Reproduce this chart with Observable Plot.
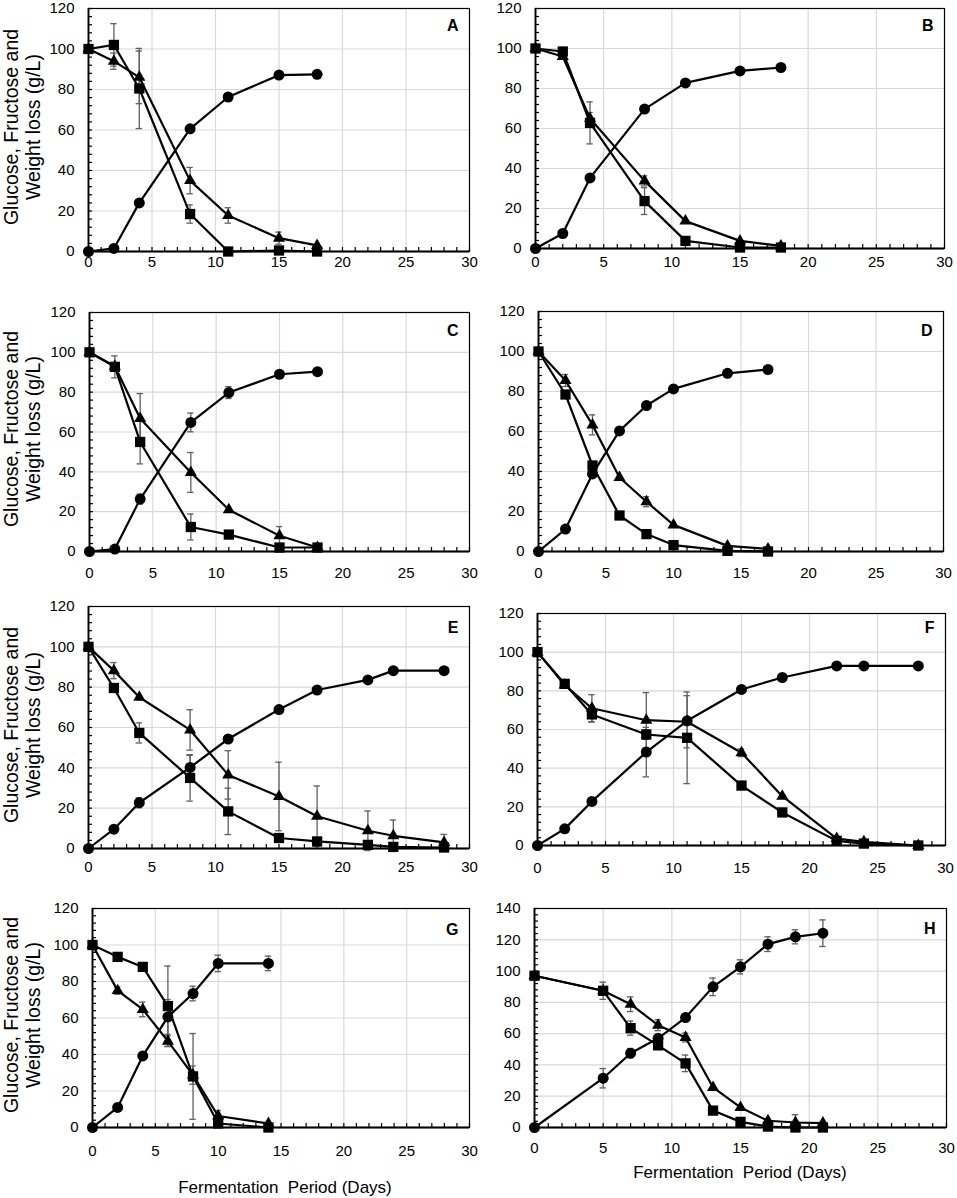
<!DOCTYPE html>
<html>
<head>
<meta charset="utf-8">
<script src="https://cdn.jsdelivr.net/npm/d3@7"></script>
<script src="https://cdn.jsdelivr.net/npm/@observablehq/plot@0.6"></script>
<style>
  html, body { margin: 0; padding: 0; background: #fff; overflow: hidden; }
  #page { position: relative; width: 957px; height: 1198px; font-family: "Liberation Sans", Arial, sans-serif; color: #000; }
  .panel { position: absolute; }
  .ytitle { position: absolute; width: 260px; height: 44px; line-height: 22px; font-size: 19.5px; text-align: center; white-space: nowrap; transform: rotate(-90deg); transform-origin: 50% 50%; }
  .xtitle { position: absolute; font-size: 17px; white-space: pre; transform: translate(-50%, -50%); }
</style>
</head>
<body>
<div id="page"></div>
<script>
// ---------------- DATA ----------------
const panelLetters = ["A", "B", "C", "D", "E", "F", "G", "H"];
const xTicks = [0, 5, 10, 15, 20, 25, 30];
const yTicks120 = [0, 20, 40, 60, 80, 100, 120];
const yTicks140 = [0, 20, 40, 60, 80, 100, 120, 140];
const yTitleLines = ["Glucose, Fructose and", "Weight loss (g/L)"];
const xTitle = "Fermentation  Period (Days)";

// Panel A
const daysA = [0, 2, 4, 8, 11, 15, 18];
const glucoseA = [100, 102, 80.5, 18.5, 0, 0.5, 0];
const glucoseErrA = [0, 10.5, 19.8, 4.5, 0, 0, 0];
const fructoseA = [100, 94, 86, 35, 17.8, 6.6, 3];
const fructoseErrA = [0, 4, 13, 6.5, 3.8, 3, 0];
const weightLossA = [0, 1.5, 24, 60.6, 76.3, 87.1, 87.5];
const weightLossErrA = [0, 0, 0, 0, 0, 0, 0];

// Panel B
const daysB = [0, 2, 4, 8, 11, 15, 18];
const glucoseB = [100, 98.5, 62.8, 23.7, 3.8, 0.5, 0.5];
const glucoseErrB = [0, 0, 10.5, 6.7, 0, 0, 0];
const fructoseB = [100, 96, 65, 33.8, 13.7, 3.8, 1.3];
const fructoseErrB = [0, 0, 3, 2.5, 0, 0, 0];
const weightLossB = [0, 7.5, 35.3, 69.7, 82.8, 88.8, 90.5];
const weightLossErrB = [0, 0, 0, 0, 0, 0, 0];

// Panel C
const daysC = [0, 2, 4, 8, 11, 15, 18];
const glucoseC = [100, 92.7, 55, 12.3, 8.5, 2, 2];
const glucoseErrC = [0, 5.5, 11, 6.5, 0, 0, 0];
const fructoseC = [100, 93, 66.8, 39.7, 21, 7.9, 2];
const fructoseErrC = [0, 0, 12.5, 10, 0, 4.6, 0];
const weightLossC = [0, 1.2, 26.3, 64.8, 79.8, 89, 90.3];
const weightLossErrC = [0, 0, 2.5, 4.7, 3, 0, 0];

// Panel D
const daysD = [0, 2, 4, 6, 8, 10, 14, 17];
const glucoseD = [100, 78.5, 43, 18, 8.7, 3.2, 0.3, 0];
const glucoseErrD = [0, 0, 0, 0, 0, 0, 0, 0];
const fructoseD = [100, 85.5, 63.3, 37, 24.9, 13.3, 2.8, 1.3];
const fructoseErrD = [0, 3, 5, 0, 2.5, 0, 0, 0];
const weightLossD = [0, 11.2, 38.8, 60.3, 73, 81.3, 89.1, 91];
const weightLossErrD = [0, 0, 0, 0, 0, 0, 0, 0];

// Panel E
const daysE = [0, 2, 4, 8, 11, 15, 18, 22, 24, 28];
const glucoseE = [100, 79.6, 57.3, 35, 18.4, 5.2, 3.5, 1.8, 0.8, 0.5];
const glucoseErrE = [0, 0, 5, 11.5, 11.5, 0, 0, 0, 0, 0];
const fructoseE = [100, 88.2, 75, 58.8, 36.5, 25.8, 16, 8.8, 6.3, 3];
const fructoseErrE = [0, 4, 0, 10, 12, 17, 15, 9.8, 7.8, 4];
const weightLossE = [0, 9.6, 22.7, 40.2, 54.3, 68.9, 78.6, 83.6, 88.2, 88.2];
const weightLossErrE = [0, 0, 2.5, 6, 0, 0, 0, 0, 0, 0];

// Panel F
const daysF = [0, 2, 4, 8, 11, 15, 18, 22, 24, 28];
const glucoseF = [100, 83.6, 67.8, 57.4, 55.7, 31, 17.1, 2.4, 1, 0];
const glucoseErrF = [0, 0, 4, 2.5, 23.7, 0, 0, 0, 0, 0];
const fructoseF = [100, 83, 71, 64.8, 64, 48, 25.5, 3.6, 1.9, 0];
const fructoseErrF = [0, 0, 7, 14.3, 13.5, 2, 0, 0, 0, 0];
const weightLossF = [0, 8.6, 22.8, 48.3, 64.5, 80.7, 86.9, 92.9, 92.9, 92.9];
const weightLossErrF = [0, 0, 0, 12.8, 0, 0, 0, 0, 0, 0];

// Panel G
const daysG = [0, 2, 4, 6, 8, 10, 14];
const glucoseG = [100, 93.5, 88, 66.5, 28, 2.2, 0];
const glucoseErrG = [0, 0, 0, 22, 23.5, 0, 0];
const fructoseG = [100, 75, 64.7, 47.3, 28.7, 6.3, 2.2];
const fructoseErrG = [0, 2, 4, 3, 5, 3, 0];
const weightLossG = [0, 11, 39.2, 60.6, 73.4, 89.9, 89.9];
const weightLossErrG = [0, 0, 0, 9.5, 4, 4.5, 4];

// Panel H
const daysH = [0, 5, 7, 9, 11, 13, 15, 17, 19, 21];
const glucoseH = [97, 87.4, 63.5, 52.5, 41, 10.8, 3.6, 0.6, 0, 0];
const glucoseErrH = [0, 5.5, 4.5, 0, 5.3, 0, 0, 0, 0, 0];
const fructoseH = [97, 87.4, 78.8, 65.4, 57.5, 25.6, 12.8, 4.3, 3.2, 2.8];
const fructoseErrH = [0, 0, 4.7, 3.5, 2.8, 0, 0, 0, 5, 0];
const weightLossH = [0, 31.5, 47.5, 57, 70.3, 89.9, 102.7, 117.2, 121.9, 124.2];
const weightLossErrH = [0, 6.2, 3, 0, 0, 5.6, 4.5, 4.7, 4.5, 8.5];

// ---------------- LAYOUT (page pixels of each plot area) ----------------
const layout = {
  A: {left: 88,  top: 8,   right: 469, bottom: 251,  gap: 4.6,  letterDy: 17, yMax: 120},
  B: {left: 535, top: 8,   right: 944, bottom: 248,  gap: 7.6,  letterDy: 17, yMax: 120},
  C: {left: 89,  top: 312, right: 469, bottom: 551,  gap: 15.6, letterDy: 18, yMax: 120},
  D: {left: 538, top: 311, right: 943, bottom: 551,  gap: 15.6, letterDy: 19, yMax: 120},
  E: {left: 88,  top: 606, right: 469, bottom: 848,  gap: 12.6, letterDy: 21, yMax: 120},
  F: {left: 537, top: 613, right: 945, bottom: 845,  gap: 16.6, letterDy: 14, yMax: 120},
  G: {left: 92,  top: 908, right: 469, bottom: 1127, gap: 17.6, letterDy: 21, yMax: 120},
  H: {left: 534, top: 908, right: 946, bottom: 1127, gap: 14.6, letterDy: 20, yMax: 140}
};

const panelData = {
  A: [daysA, glucoseA, glucoseErrA, fructoseA, fructoseErrA, weightLossA, weightLossErrA],
  B: [daysB, glucoseB, glucoseErrB, fructoseB, fructoseErrB, weightLossB, weightLossErrB],
  C: [daysC, glucoseC, glucoseErrC, fructoseC, fructoseErrC, weightLossC, weightLossErrC],
  D: [daysD, glucoseD, glucoseErrD, fructoseD, fructoseErrD, weightLossD, weightLossErrD],
  E: [daysE, glucoseE, glucoseErrE, fructoseE, fructoseErrE, weightLossE, weightLossErrE],
  F: [daysF, glucoseF, glucoseErrF, fructoseF, fructoseErrF, weightLossF, weightLossErrF],
  G: [daysG, glucoseG, glucoseErrG, fructoseG, fructoseErrG, weightLossG, weightLossErrG],
  H: [daysH, glucoseH, glucoseErrH, fructoseH, fructoseErrH, weightLossH, weightLossErrH]
};

const FONT = '"Liberation Sans", Arial, sans-serif';
const page = document.getElementById("page");

function toRows(days, values, errs, series) {
  return days.map((d, i) => ({day: d, value: values[i], err: errs[i], series}));
}

function makePanel(letter) {
  const p = layout[letter];
  const [days, glu, gluE, fru, fruE, wl, wlE] = panelData[letter];
  const w = p.right - p.left, h = p.bottom - p.top;
  const m = {left: 52, right: 10, top: 8, bottom: 34};
  const yMajor = p.yMax === 140 ? yTicks140 : yTicks120;
  const xMinor = d3.range(0, 31, 1);
  const yMinor = d3.range(0, p.yMax + 0.1, 4);
  const tickLenY = 4 * p.yMax / h;
  const tickLenX = 4 * 30 / w;
  const capX = 3.2 * 30 / w;

  const gRows = toRows(days, glu, gluE, "Glucose");
  const fRows = toRows(days, fru, fruE, "Fructose");
  const wRows = toRows(days, wl, wlE, "Weight loss");
  const errRows = [...wRows, ...fRows, ...gRows].filter(d => d.err > 0);

  const chart = Plot.plot({
    width: w + m.left + m.right,
    height: h + m.top + m.bottom,
    marginLeft: m.left, marginRight: m.right, marginTop: m.top, marginBottom: m.bottom,
    x: {domain: [0, 30]},
    y: {domain: [0, p.yMax]},
    style: {fontFamily: FONT, fontSize: "15px", background: "transparent", overflow: "visible", color: "#000"},
    marks: [
      Plot.gridX(xTicks, {stroke: "#d9d9d9", strokeOpacity: 1, strokeWidth: 1.2}),
      Plot.gridY(yMajor, {stroke: "#d9d9d9", strokeOpacity: 1, strokeWidth: 1.2}),
      Plot.frame({stroke: "#000", strokeWidth: 1.2}),
      Plot.ruleX(xMinor, {x: d => d, y1: 0, y2: tickLenY, stroke: "#000", strokeWidth: 1.2}),
      Plot.ruleY(yMinor, {y: d => d, x1: 0, x2: tickLenX, stroke: "#000", strokeWidth: 1.2}),
      Plot.ruleX([0], {stroke: "#000", strokeWidth: 1.8}),
      Plot.ruleY([0], {stroke: "#000", strokeWidth: 1.8}),
      Plot.axisX({ticks: xTicks, tickSize: 0, tickPadding: p.gap, label: null, fontSize: 15, tickFormat: d => String(d)}),
      Plot.axisY({ticks: yMajor, tickSize: 0, tickPadding: 14, label: null, fontSize: 15, tickFormat: d => String(d)}),
      // error bars
      Plot.ruleX(errRows, {x: "day", y1: d => d.value - d.err, y2: d => d.value + d.err, stroke: "#5f5f5f", strokeWidth: 1.3}),
      Plot.ruleY(errRows, {y: d => d.value + d.err, x1: d => d.day - capX, x2: d => d.day + capX, stroke: "#5f5f5f", strokeWidth: 1.3}),
      Plot.ruleY(errRows, {y: d => d.value - d.err, x1: d => d.day - capX, x2: d => d.day + capX, stroke: "#5f5f5f", strokeWidth: 1.3}),
      // lines
      Plot.line(wRows, {x: "day", y: "value", stroke: "#000", strokeWidth: 2.2}),
      Plot.line(fRows, {x: "day", y: "value", stroke: "#000", strokeWidth: 2.2}),
      Plot.line(gRows, {x: "day", y: "value", stroke: "#000", strokeWidth: 2.2}),
      // markers
      Plot.dot(wRows, {x: "day", y: "value", symbol: "circle", r: 5.5, fill: "#000", stroke: "none"}),
      Plot.dot(fRows, {x: "day", y: "value", symbol: "triangle", r: 4.5, fill: "#000", stroke: "none"}),
      Plot.dot(gRows, {x: "day", y: "value", symbol: "square", r: 5.8, fill: "#000", stroke: "none"}),
      // panel letter
      Plot.text([letter], {text: d => d, frameAnchor: "top-right", dx: -11, dy: p.letterDy, lineAnchor: "middle", textAnchor: "end", fontWeight: "bold", fontSize: 16, fill: "#000"})
    ]
  });
  chart.classList.add("panel");
  chart.style.left = (p.left - m.left) + "px";
  chart.style.top = (p.top - m.top) + "px";
  page.appendChild(chart);
}

panelLetters.forEach(makePanel);

// y-axis titles on left column
["A", "C", "E", "G"].forEach(letter => {
  const p = layout[letter];
  const cy = (p.top + p.bottom) / 2 - 2.5;
  const div = document.createElement("div");
  div.className = "ytitle";
  div.innerHTML = yTitleLines.map(t => `<div>${t}</div>`).join("");
  div.style.left = (22.4 - 130) + "px";
  div.style.top = (cy - 22) + "px";
  page.appendChild(div);
});

// x-axis titles under bottom row
[[285, 1188], [740, 1173]].forEach(([cx, cy]) => {
  const div = document.createElement("div");
  div.className = "xtitle";
  div.textContent = xTitle;
  div.style.left = cx + "px";
  div.style.top = cy + "px";
  page.appendChild(div);
});
</script>
</body>
</html>
